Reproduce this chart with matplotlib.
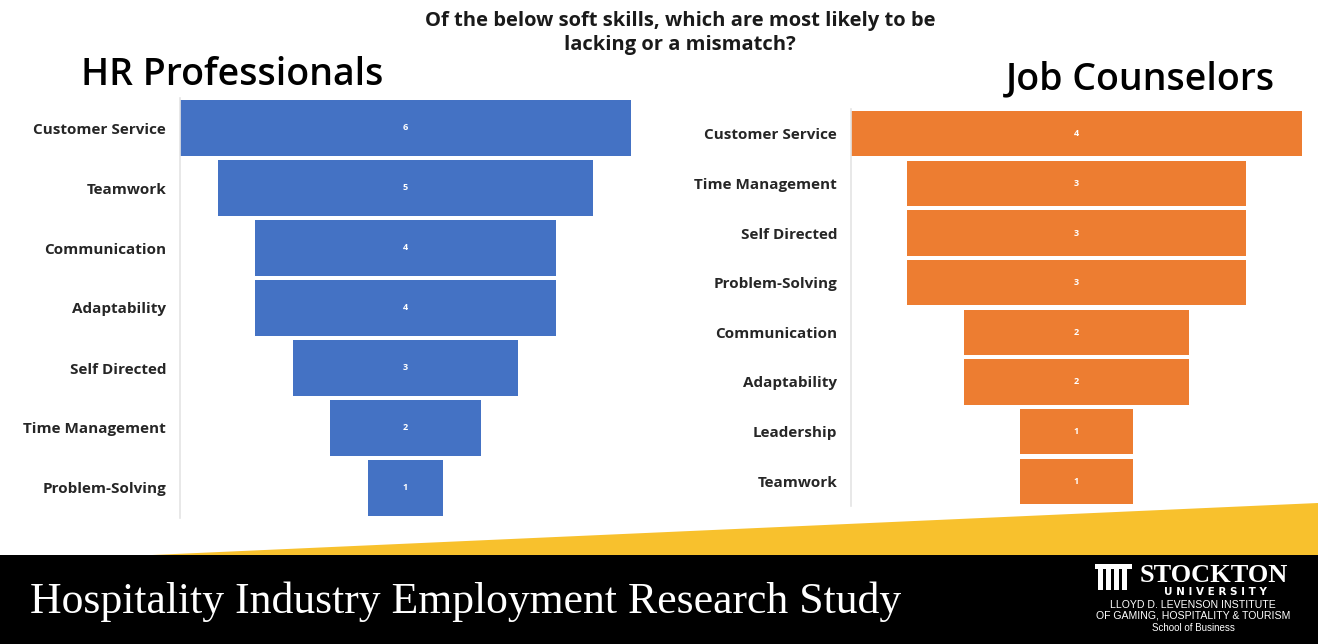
import matplotlib.pyplot as plt
from matplotlib.patches import Polygon, Rectangle

# survey counts, top of funnel first
hr_skills = ["Customer Service", "Teamwork", "Communication", "Adaptability",
             "Self Directed", "Time Management", "Problem-Solving"]
hr_counts = [6, 5, 4, 4, 3, 2, 1]

jc_skills = ["Customer Service", "Time Management", "Self Directed", "Problem-Solving",
             "Communication", "Adaptability", "Leadership", "Teamwork"]
jc_counts = [4, 3, 3, 3, 2, 2, 1, 1]

W, H = 1318, 644
fig = plt.figure(figsize=(W / 100, H / 100), dpi=100)
fig.patch.set_facecolor("white")

label_font = "Open Sans"


def funnel(rect, skills, counts, color, bar_h):
    ax = fig.add_axes(rect)
    y = list(range(len(skills)))
    lefts = [-c / 2 for c in counts]
    ax.barh(y, counts, left=lefts, height=bar_h, color=color)
    for yi, c in zip(y, counts):
        ax.text(0, yi, str(c), ha="center", va="center", color="white",
                fontsize=6.5, fontweight="bold", family=label_font)
    m = max(counts) / 2
    ax.set_xlim(-m, m)
    ax.set_ylim(len(skills) - 0.5, -0.5)
    ax.set_yticks(y)
    ax.set_yticklabels(skills, fontsize=11, fontweight="bold", family=label_font,
                       color="#262626")
    ax.tick_params(axis="y", length=0, pad=10)
    ax.set_xticks([])
    for s in ["top", "right", "bottom"]:
        ax.spines[s].set_visible(False)
    ax.spines["left"].set_color("#e4e4e4")
    ax.spines["left"].set_linewidth(1.2)
    ax.set_facecolor("none")
    return ax


funnel([180 / W, (H - 518) / H, 451 / W, 420 / H], hr_skills, hr_counts, "#4472C4", 0.93)
funnel([851 / W, (H - 506) / H, 451 / W, 397 / H], jc_skills, jc_counts, "#ED7D31", 0.91)

# page decoration in pixel coordinates
bg = fig.add_axes([0, 0, 1, 1], zorder=-1)
bg.set_xlim(0, W)
bg.set_ylim(H, 0)
bg.axis("off")
bg.add_patch(Polygon([(130, 556), (W, 503), (W, 556)], closed=True,
                     facecolor="#F8C12D", edgecolor="none"))
bg.add_patch(Rectangle((0, 555), W, H - 555, facecolor="black", edgecolor="none"))

ov = fig.add_axes([0, 0, 1, 1], zorder=5)
ov.set_xlim(0, W)
ov.set_ylim(H, 0)
ov.axis("off")
ov.patch.set_alpha(0)

ov.text(680, 33, "Of the below soft skills, which are most likely to be\nlacking or a mismatch?",
        ha="center", va="center", fontsize=14.5, fontweight="bold", family=label_font,
        color="#1a1a1a", linespacing=1.3)
ov.text(232, 75, "HR Professionals", ha="center", va="center", fontsize=27,
        fontweight="semibold", family=label_font, color="black")
ov.text(1140, 79, "Job Counselors", ha="center", va="center", fontsize=27,
        fontweight="semibold", family=label_font, color="black")

ov.text(30, 602, "Hospitality Industry Employment Research Study", ha="left", va="center",
        fontsize=31.5, family="Liberation Serif", color="white")

# Stockton mark: simple column icon plus wordmark
for i in range(4):
    ov.add_patch(Rectangle((1098 + i * 8, 568), 5, 22, facecolor="white", edgecolor="none"))
ov.add_patch(Rectangle((1095, 564), 37, 5, facecolor="white", edgecolor="none"))
ov.text(1140, 576, "STOCKTON", ha="left", va="center", fontsize=19, fontweight="bold",
        family="Liberation Serif", color="white")
ov.text(1215, 592, "U N I V E R S I T Y", ha="center", va="center", fontsize=7.5,
        fontweight="bold", family="DejaVu Sans", color="white")
ov.text(1193, 605, "LLOYD D. LEVENSON INSTITUTE", ha="center", va="center", fontsize=7.6,
        family="Liberation Sans", color="white")
ov.text(1193, 616, "OF GAMING, HOSPITALITY & TOURISM", ha="center", va="center", fontsize=7.6,
        family="Liberation Sans", color="white")
ov.text(1193, 628, "School of Business", ha="center", va="center", fontsize=7.0,
        family="Liberation Sans", color="white")

fig.savefig("out.png", dpi=100)
